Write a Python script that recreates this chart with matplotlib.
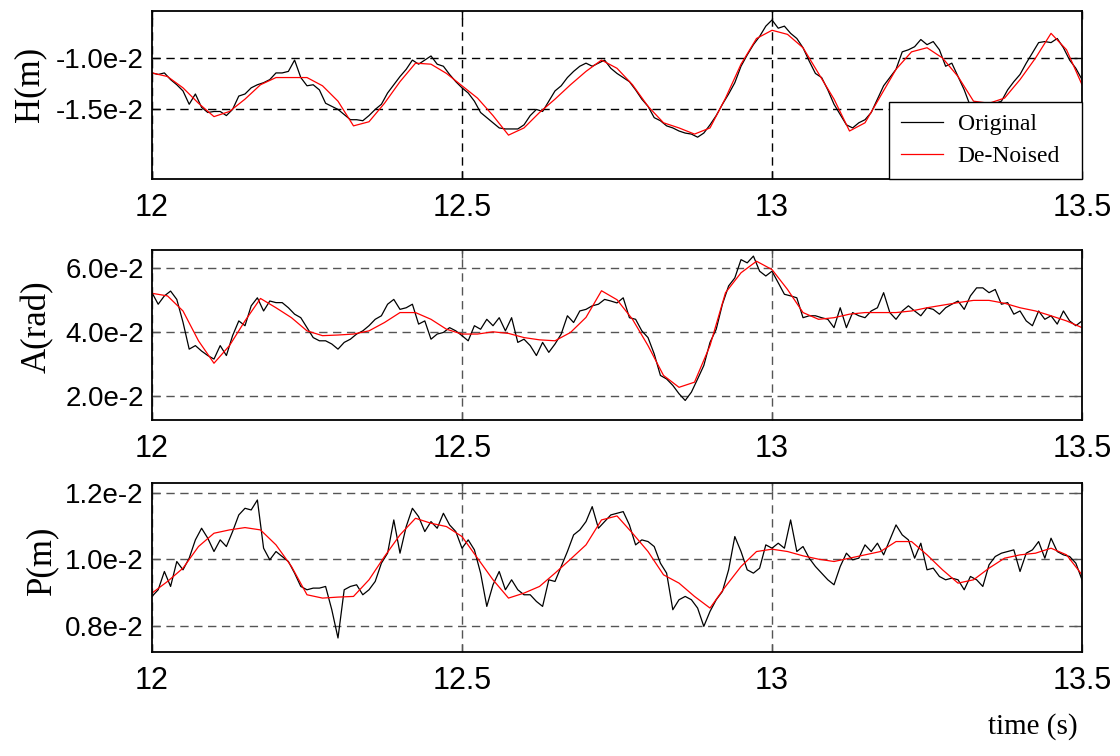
import matplotlib
matplotlib.use('Agg')
import matplotlib.pyplot as plt
import numpy as np

# time grids (s)
t_orig = np.linspace(12.0, 13.5, 151)
t_den = np.linspace(12.0, 13.5, 61)

# H(m), values in units of 1e-2
h_orig = [-1.145, -1.16, -1.145, -1.21, -1.26, -1.32, -1.45, -1.35, -1.48, -1.53,
          -1.52, -1.52, -1.56, -1.50, -1.37, -1.35, -1.29, -1.26, -1.24, -1.21,
          -1.145, -1.145, -1.13, -1.02, -1.19, -1.27, -1.26, -1.31, -1.44, -1.47,
          -1.50, -1.55, -1.60, -1.60, -1.61, -1.56, -1.50, -1.45, -1.34, -1.26,
          -1.18, -1.11, -1.02, -1.06, -1.02, -0.98, -1.06, -1.08, -1.16, -1.23,
          -1.29, -1.34, -1.42, -1.53, -1.58, -1.63, -1.68, -1.69, -1.69, -1.69,
          -1.65, -1.56, -1.50, -1.52, -1.42, -1.32, -1.27, -1.19, -1.13, -1.08,
          -1.05, -1.08, -1.05, -1.02, -1.10, -1.15, -1.19, -1.23, -1.31, -1.40,
          -1.47, -1.58, -1.61, -1.66, -1.68, -1.71, -1.73, -1.74, -1.77, -1.73,
          -1.65, -1.56, -1.45, -1.35, -1.24, -1.08, -0.97, -0.87, -0.79, -0.69,
          -0.63, -0.71, -0.69, -0.76, -0.81, -0.90, -1.03, -1.15, -1.19, -1.31,
          -1.45, -1.55, -1.65, -1.68, -1.63, -1.60, -1.53, -1.40, -1.27, -1.19,
          -1.11, -0.94, -0.92, -0.89, -0.82, -0.87, -0.84, -0.92, -1.08, -1.05,
          -1.18, -1.31, -1.47, -1.48, -1.47, -1.50, -1.44, -1.42, -1.31, -1.23,
          -1.16, -1.05, -0.95, -0.85, -0.84, -0.85, -0.81, -0.90, -1.02, -1.10,
          -1.21]
h_den = [-1.145, -1.18, -1.29, -1.44, -1.57, -1.52, -1.40, -1.26, -1.19, -1.19,
         -1.19, -1.27, -1.42, -1.66, -1.62, -1.44, -1.23, -1.05, -1.06, -1.15,
         -1.27, -1.39, -1.56, -1.75, -1.68, -1.53, -1.40, -1.26, -1.13, -1.02,
         -1.10, -1.26, -1.47, -1.63, -1.68, -1.74, -1.68, -1.39, -1.06, -0.81,
         -0.73, -0.77, -0.90, -1.15, -1.40, -1.71, -1.63, -1.37, -1.11, -0.94,
         -0.90, -1.00, -1.18, -1.42, -1.44, -1.39, -1.21, -1.00, -0.76, -0.92,
         -1.26]

# A(rad), values in units of 1e-2
a_orig = [5.22, 4.86, 5.12, 5.27, 5.01, 4.30, 3.46, 3.57, 3.40, 3.26,
          3.15, 3.57, 3.26, 3.88, 4.34, 4.19, 4.81, 5.06, 4.65, 4.96,
          4.91, 4.91, 4.75, 4.55, 4.44, 4.13, 3.82, 3.72, 3.72, 3.62,
          3.46, 3.67, 3.77, 3.93, 4.03, 4.19, 4.39, 4.50, 4.86, 5.01,
          4.70, 4.75, 4.86, 4.24, 4.34, 3.77, 3.93, 3.98, 4.13, 4.03,
          3.88, 3.72, 4.19, 4.08, 4.39, 4.19, 4.44, 4.03, 4.44, 3.67,
          3.77, 3.57, 3.26, 3.67, 3.36, 3.62, 3.93, 4.50, 4.29, 4.65,
          4.70, 4.81, 4.86, 5.01, 4.96, 4.90, 5.06, 4.44, 4.39, 4.03,
          3.82, 3.31, 2.64, 2.53, 2.33, 2.07, 1.86, 2.12, 2.53, 2.95,
          3.67, 4.08, 4.86, 5.43, 5.68, 6.25, 6.15, 6.36, 5.89, 5.74,
          5.89, 5.53, 5.17, 5.12, 5.06, 4.44, 4.50, 4.50, 4.44, 4.39,
          4.13, 4.75, 4.13, 4.60, 4.50, 4.44, 4.65, 4.75, 5.22, 4.60,
          4.39, 4.65, 4.81, 4.65, 4.50, 4.75, 4.70, 4.55, 4.75, 4.86,
          4.96, 4.70, 5.12, 5.37, 5.37, 5.22, 5.32, 4.86, 4.91, 4.55,
          4.65, 4.34, 4.19, 4.65, 4.39, 4.50, 4.24, 4.65, 4.34, 4.19,
          4.34]
a_den = [5.20, 5.12, 4.65, 3.72, 3.02, 3.57, 4.34, 5.04, 4.75, 4.44,
         4.03, 3.88, 3.90, 3.93, 4.03, 4.29, 4.60, 4.60, 4.39, 4.08,
         3.93, 3.93, 4.00, 3.95, 3.82, 3.75, 3.72, 3.98, 4.45, 5.28,
         5.00, 4.39, 3.57, 2.64, 2.27, 2.43, 3.57, 5.22, 5.84, 6.20,
         5.94, 5.32, 4.60, 4.39, 4.44, 4.55, 4.60, 4.60, 4.60, 4.65,
         4.75, 4.83, 4.91, 4.98, 4.98, 4.89, 4.75, 4.65, 4.50, 4.34,
         4.13]

# P(m), values in units of 1e-2
p_orig = [0.888, 0.908, 0.963, 0.918, 0.993, 0.968, 1.003, 1.058, 1.093, 1.063,
          1.023, 1.058, 1.038, 1.083, 1.133, 1.153, 1.148, 1.178, 1.033, 0.998,
          1.023, 1.008, 0.993, 0.958, 0.918, 0.908, 0.913, 0.913, 0.918, 0.848,
          0.763, 0.908, 0.918, 0.923, 0.893, 0.908, 0.933, 0.988, 1.018, 1.118,
          1.018, 1.098, 1.153, 1.128, 1.083, 1.113, 1.093, 1.138, 1.103, 1.083,
          1.033, 1.058, 1.028, 0.958, 0.858, 0.923, 0.963, 0.908, 0.938, 0.908,
          0.893, 0.893, 0.873, 0.858, 0.938, 0.933, 0.978, 1.023, 1.073, 1.088,
          1.113, 1.158, 1.093, 1.113, 1.133, 1.138, 1.143, 1.103, 1.043, 1.058,
          1.053, 1.038, 0.988, 0.958, 0.848, 0.878, 0.888, 0.878, 0.853, 0.798,
          0.843, 0.878, 0.903, 0.968, 1.068, 1.023, 0.968, 0.958, 0.973, 1.043,
          1.033, 1.048, 1.033, 1.118, 1.023, 1.038, 1.003, 0.978, 0.958, 0.938,
          0.923, 0.978, 1.018, 0.998, 1.003, 1.043, 1.023, 1.048, 1.013, 1.058,
          1.103, 1.073, 1.058, 1.003, 1.048, 0.968, 0.973, 0.948, 0.938, 0.943,
          0.938, 0.908, 0.948, 0.938, 0.918, 0.983, 1.008, 1.018, 1.023, 1.028,
          0.963, 1.018, 1.028, 1.053, 1.003, 1.063, 1.023, 1.013, 1.008, 0.988,
          0.938]
p_den = [0.898, 0.933, 0.973, 1.038, 1.078, 1.088, 1.095, 1.088, 1.043, 0.978,
         0.893, 0.883, 0.886, 0.888, 0.938, 1.008, 1.073, 1.123, 1.108, 1.098,
         1.068, 1.003, 0.938, 0.883, 0.898, 0.918, 0.958, 1.000, 1.043, 1.118,
         1.130, 1.078, 1.023, 0.953, 0.928, 0.888, 0.853, 0.918, 0.978, 1.023,
         1.030, 1.023, 1.010, 1.000, 0.993, 1.003, 1.013, 1.023, 1.053, 1.053,
         1.013, 0.968, 0.928, 0.938, 0.973, 1.003, 1.013, 1.018, 1.033, 1.013,
         0.953]

x_ticks = [12, 12.5, 13, 13.5]
x_labels = ['12', '12.5', '13', '13.5']

panels = [
    ('H(m)', h_orig, h_den, [-1.5, -1.0], ['-1.5e-2', '-1.0e-2'], (-2.177, -0.543)),
    ('A(rad)', a_orig, a_den, [2.0, 4.0, 6.0], ['2.0e-2', '4.0e-2', '6.0e-2'], (1.25, 6.55)),
    ('P(m)', p_orig, p_den, [0.8, 1.0, 1.2], ['0.8e-2', '1.0e-2', '1.2e-2'], (0.721, 1.229)),
]

sans = 'Liberation Sans'
serif = 'Liberation Serif'

fig = plt.figure(figsize=(11.2, 7.56), dpi=100)
rects = [(0.1357, 0.7632, 0.8304, 0.2222),
         (0.1357, 0.4444, 0.8304, 0.2249),
         (0.1357, 0.1376, 0.8304, 0.2235)]
label_pos = [(30, 84), (37, 327), (42, 560)]

for i, (name, orig, den, yt, ytl, ylim) in enumerate(panels):
    ax = fig.add_axes(rects[i])
    ax.plot(t_orig, np.array(orig) * 1e-2, color='black', lw=0.9, label='Original')
    ax.plot(t_den, np.array(den) * 1e-2, color='#ff0000', lw=0.9, label='De-Noised')
    ax.set_xlim(12, 13.5)
    ax.set_ylim(ylim[0] * 1e-2, ylim[1] * 1e-2)
    ax.set_xticks(x_ticks)
    ax.set_xticklabels(x_labels, fontfamily=sans, fontsize=22)
    ax.set_yticks([v * 1e-2 for v in yt])
    ax.set_yticklabels(ytl, fontfamily=sans, fontsize=20)
    gcol = 'black' if i == 0 else '#555555'
    ax.grid(True, linestyle=(0, (6, 4)), color=gcol, lw=1.0)
    ax.tick_params(axis='both', direction='in', length=6, width=1, top=True, right=True,
                   colors=gcol, labelcolor='black')
    ax.tick_params(axis='x', pad=10)
    ax.tick_params(axis='y', pad=6)
    for s in ax.spines.values():
        s.set_linewidth(1.3)
        s.set_color('black')
    fig.text(label_pos[i][0] / 1120, 1 - label_pos[i][1] / 756, name, rotation=90,
             ha='center', va='center', fontfamily=serif, fontsize=25)
    if i == 0:
        leg = ax.legend(loc='lower left', bbox_to_anchor=(0.7925, 0.0, 0.2075, 0.467),
                        mode='expand', borderaxespad=0, fancybox=False, framealpha=1,
                        edgecolor='black', prop={'family': serif, 'size': 17},
                        handlelength=1.8, handletextpad=0.6, borderpad=0.5,
                        labelspacing=0.45)
        leg.get_frame().set_linewidth(1.0)

fig.text(1033 / 1120, 1 - 727 / 756, 'time (s)', ha='center', va='center',
         fontfamily=serif, fontsize=21)

fig.savefig('out.png', dpi=100, facecolor='white')
